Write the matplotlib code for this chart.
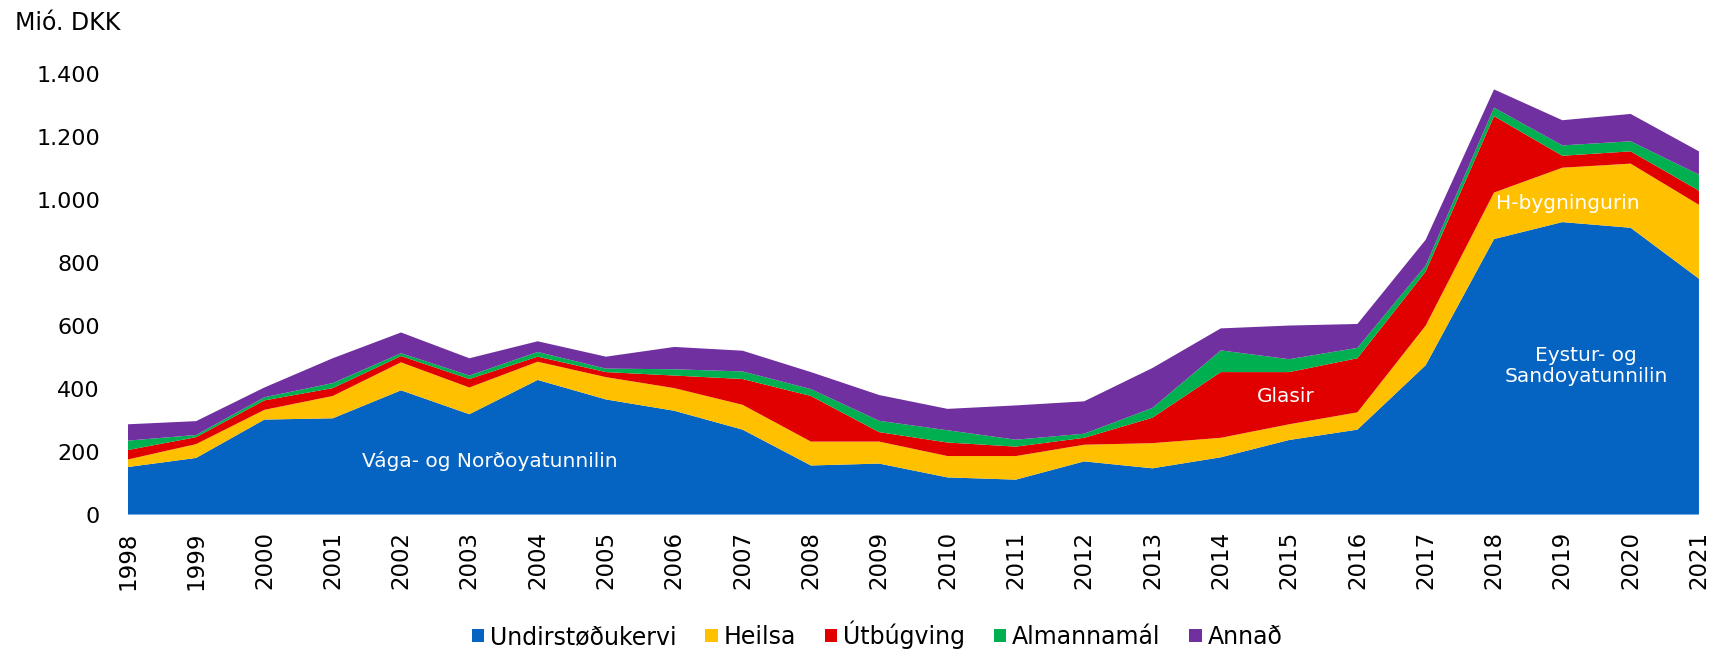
import matplotlib
matplotlib.use("Agg")
import matplotlib.pyplot as plt
from matplotlib.ticker import FuncFormatter

# Ár
years = list(range(1998, 2022))

# Íløgur í mió. DKK, lisin av myndini (stablaðar økir)
undirstodukervi = [151, 180, 302, 306, 395, 319, 428, 366, 330, 270, 156, 162,
                   118, 111, 169, 147, 182, 237, 270, 475, 876, 930, 912, 750]
heilsa = [24, 44, 31, 71, 89, 85, 58, 71, 72, 79, 76, 70,
          68, 75, 53, 80, 62, 50, 55, 126, 148, 173, 204, 235]
utbugving = [30, 22, 30, 25, 20, 27, 16, 16, 40, 82, 145, 30,
             43, 30, 22, 81, 209, 166, 172, 172, 243, 38, 39, 45]
almannamal = [30, 7, 10, 16, 9, 11, 15, 11, 20, 24, 22, 36,
              39, 22, 13, 31, 69, 41, 33, 19, 27, 33, 32, 51]
annad = [52, 44, 31, 79, 66, 55, 34, 38, 71, 66, 54, 82,
         68, 109, 103, 127, 70, 107, 76, 82, 58, 80, 87, 74]

labels = ['Undirstøðukervi', 'Heilsa', 'Útbúgving', 'Almannamál', 'Annað']
colors = ['#0563C1', '#FFC000', '#E00000', '#00B050', '#7030A0']

fig = plt.figure(figsize=(17.13, 6.49), dpi=100)
ax = fig.add_axes([0.0746, 0.2072, 0.9172, 0.6783])

ax.stackplot(years, undirstodukervi, heilsa, utbugving, almannamal, annad,
             colors=colors, labels=labels, linewidth=0)

ax.set_xlim(1998, 2021)
ax.set_ylim(0, 1400)
ax.set_xticks(years)
ax.set_xticklabels([str(y) for y in years], rotation=90)
ax.set_yticks(range(0, 1401, 200))
ax.yaxis.set_major_formatter(FuncFormatter(lambda v, p: f"{int(v):,}".replace(",", ".")))
ax.tick_params(axis='x', length=0, pad=12, labelsize=16.5)
ax.tick_params(axis='y', length=0, pad=20, labelsize=16)
for s in ax.spines.values():
    s.set_visible(False)

# Tekstir inni í myndini
txt = dict(color='white', fontsize=14.5, ha='center', va='center')
ax.text(2003.3, 170, 'Vága- og Norðoyatunnilin', **txt)
ax.text(2014.95, 375, 'Glasir', **txt)
ax.text(2019.08, 990, 'H-bygningurin', **txt)
ax.text(2019.35, 472, 'Eystur- og\nSandoyatunnilin', linespacing=1.1, **txt)

fig.text(0.0088, 1 - 23 / 649, 'Mió. DKK', fontsize=17, va='center', ha='left')

handles, lbls = ax.get_legend_handles_labels()
fig.legend(handles, lbls, loc='center', bbox_to_anchor=(0.512, 0.022), ncol=5,
           frameon=False, fontsize=17, handlelength=0.52, handleheight=0.52,
           handletextpad=0.25, columnspacing=1.22, borderpad=0.1)

fig.savefig('out.png', dpi=100)
